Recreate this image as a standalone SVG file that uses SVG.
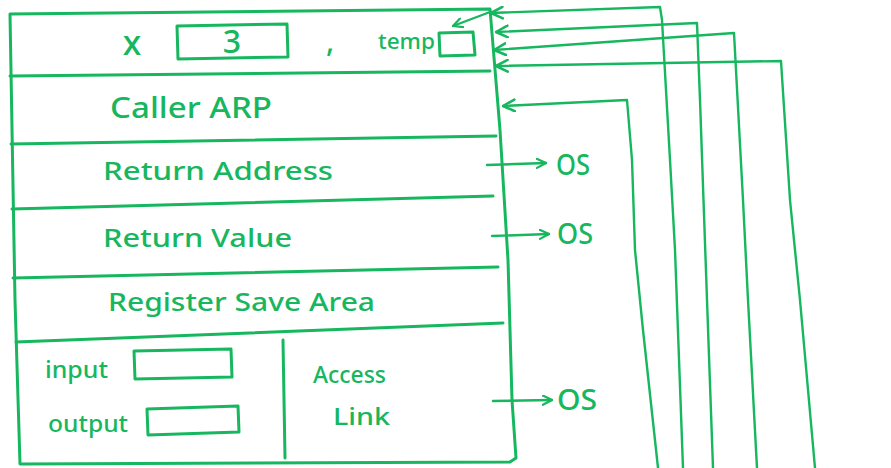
<svg xmlns="http://www.w3.org/2000/svg" width="891" height="468" viewBox="0 0 891 468">
<defs>
<style>
.ln{fill:none;stroke:#16b75e;stroke-width:3;stroke-linecap:round;stroke-linejoin:round}
.thin{fill:none;stroke:#16b75e;stroke-width:2.4;stroke-linecap:round;stroke-linejoin:round}
.tx{fill:#16b75e;font-family:"Noto Sans","DejaVu Sans",sans-serif;font-weight:500}
</style>
<marker id="ah" viewBox="0 0 12 12" refX="11" refY="6" markerWidth="14" markerHeight="14" markerUnits="userSpaceOnUse" orient="auto">
<path d="M1,1 L11,6 L1,11" fill="none" stroke="#16b75e" stroke-width="2.2" stroke-linecap="round" stroke-linejoin="round"/>
</marker>
<marker id="ahs" viewBox="0 0 12 12" refX="11" refY="6" markerWidth="11" markerHeight="11" markerUnits="userSpaceOnUse" orient="auto">
<path d="M1,1 L11,6 L1,11" fill="none" stroke="#16b75e" stroke-width="2.4" stroke-linecap="round" stroke-linejoin="round"/>
</marker>
</defs>
<rect width="891" height="468" fill="#ffffff"/>

<g id="frame">
<path class="ln" d="M10,14 L490,9 L500,130 L508,260 L512,400 L516,458 L510,462 L20,464 L15,300 L10,14 Z"/>
</g>

<g id="row-params">
<path class="ln" d="M10,76 L490,71"/>
<text class="tx" x="132" y="55" font-size="34" text-anchor="middle">x</text>
<path class="ln" d="M177,26 L287,24 L288,57 L178,59 Z"/>
<text class="tx" x="232" y="53" font-size="32" text-anchor="middle">3</text>
<text class="tx" x="326" y="52" font-size="30">,</text>
<text class="tx" x="378" y="49" font-size="22" textLength="57" lengthAdjust="spacingAndGlyphs">temp</text>
<path class="ln" d="M439,33 L473,32 L475,55 L440,56 Z"/>
</g>

<g id="row-caller">
<path class="ln" d="M11,144 L496,136"/>
<text class="tx" x="110" y="118" font-size="28" textLength="162" lengthAdjust="spacingAndGlyphs">Caller ARP</text>
</g>

<g id="row-return-address">
<path class="ln" d="M12,209 L493,196"/>
<text class="tx" x="103" y="180" font-size="26" textLength="230" lengthAdjust="spacingAndGlyphs">Return Address</text>
</g>

<g id="row-return-value">
<path class="ln" d="M13,278 L498,267"/>
<text class="tx" x="103" y="247" font-size="26" textLength="189" lengthAdjust="spacingAndGlyphs">Return Value</text>
</g>

<g id="row-register">
<path class="ln" d="M16,342 L503,323"/>
<text class="tx" x="108" y="311" font-size="26" textLength="267" lengthAdjust="spacingAndGlyphs">Register Save Area</text>
</g>

<g id="row-io">
<path class="ln" d="M283,340 L285,458"/>
<text class="tx" x="45" y="378" font-size="23" textLength="63" lengthAdjust="spacingAndGlyphs">input</text>
<path class="ln" d="M134,351 L231,349 L232,377 L135,379 Z"/>
<text class="tx" x="48" y="432" font-size="23" textLength="80" lengthAdjust="spacingAndGlyphs">output</text>
<path class="ln" d="M147,409 L238,406 L239,432 L148,435 Z"/>
</g>

<g id="row-access">
<text class="tx" x="313" y="383" font-size="23" textLength="73" lengthAdjust="spacingAndGlyphs">Access</text>
<text class="tx" x="333" y="425" font-size="23" textLength="57" lengthAdjust="spacingAndGlyphs">Link</text>
</g>

<g id="os-1"><text class="tx" x="556" y="175" font-size="28" textLength="34" lengthAdjust="spacingAndGlyphs">OS</text></g>
<g id="os-2"><text class="tx" x="557" y="244" font-size="28" textLength="36" lengthAdjust="spacingAndGlyphs">OS</text></g>
<g id="os-3"><text class="tx" x="557" y="410" font-size="28" textLength="40" lengthAdjust="spacingAndGlyphs">OS</text></g>

<g id="connectors">
<path class="thin" marker-end="url(#ahs)" d="M490,12 L453,26"/>
<path class="thin" marker-end="url(#ah)" d="M683,468 L675,250 L670,160 L662,20 L660,7 L491,13"/>
<path class="thin" marker-end="url(#ah)" d="M713,468 L707,300 L700,100 L697,23 L496,32"/>
<path class="thin" marker-end="url(#ah)" d="M757,468 L748,300 L743,200 L734,33 L494,50"/>
<path class="thin" marker-end="url(#ah)" d="M815,468 L800,300 L790,200 L781,61 L496,66"/>
<path class="thin" marker-end="url(#ah)" d="M658,468 L643,330 L635,250 L632,160 L627,100 L503,106"/>
<path class="thin" marker-end="url(#ahs)" d="M487,165 L546,163"/>
<path class="thin" marker-end="url(#ahs)" d="M492,236 L549,234"/>
<path class="thin" marker-end="url(#ahs)" d="M493,401 L552,400"/>
</g>
</svg>
